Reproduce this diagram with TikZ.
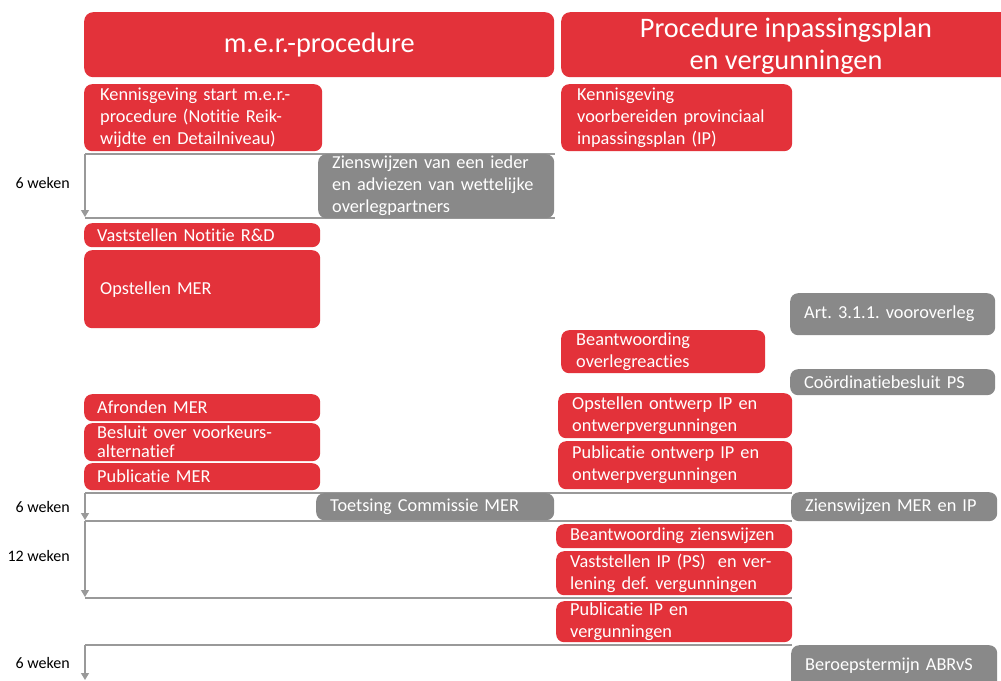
\documentclass[tikz,border=0pt]{standalone}
\usepackage{fontspec}
\setmainfont{Carlito}[Ligatures={NoCommon}]
\usetikzlibrary{arrows.meta}
\definecolor{mred}{HTML}{E3323A}
\definecolor{mgrey}{HTML}{898989}
\definecolor{lgrey}{HTML}{999999}
\tikzset{
  base/.style={anchor=north west, rounded corners=8pt, text=white, align=left,
    inner xsep=14pt, inner ysep=0pt, font=\fontsize{18.3}{22}\selectfont},
  redbox/.style={base, fill=mred},
  greybox/.style={base, fill=mgrey},
  headbox/.style={anchor=north west, rounded corners=9pt, fill=mred, text=white, align=center,
    inner sep=0pt, font=\fontsize{28.3}{32}\selectfont},
  tline/.style={draw=lgrey, line width=1.2pt},
  tarrow/.style={draw=lgrey, line width=1.2pt, -{Triangle[width=8pt,length=7pt]}},
  wlabel/.style={anchor=east, inner sep=0pt, font=\fontsize{16}{19}\selectfont}
}
\begin{document}
\frenchspacing
\begin{tikzpicture}[x=1pt,y=-1pt]
\clip (0,0) rectangle (1001,680);
\fill[white] (0,0) rectangle (1001,680);

% headers
\node[headbox, minimum width=470, minimum height=65] (h1) at (84,12) {m.e.r.-procedure};
\node[headbox, minimum width=450, minimum height=65, text width=440] (h2) at (561,12) {};
\node[font=\fontsize{28.3}{32}\selectfont, text=white, align=center, inner sep=0pt] (h2t) at (786,46) {Procedure inpassingsplan\\en vergunningen};

% timeline brackets
\coordinate (b1tl) at (85,154); \coordinate (b1tr) at (555,154);
\coordinate (b1bl) at (85,218); \coordinate (b1br) at (555,218);
\coordinate (b1a) at (85,217);
\draw[tline] (b1tl) -- (b1tr);
\draw[tline] (b1bl) -- (b1br);
\draw[tarrow] (b1tl) -- (b1a);
\node[wlabel] (w1) at (70,183) {6 weken};

\coordinate (b2tl) at (85,493); \coordinate (b2tr) at (792,493);
\coordinate (b2bl) at (85,521); \coordinate (b2br) at (792,521);
\coordinate (b2a) at (85,520);
\draw[tline] (b2tl) -- (b2tr);
\draw[tline] (b2bl) -- (b2br);
\draw[tarrow] (b2tl) -- (b2a);
\node[wlabel] (w2) at (70,507) {6 weken};

\coordinate (b3bl) at (85,598); \coordinate (b3br) at (792,598);
\coordinate (b3a) at (85,597);
\draw[tline] (b3bl) -- (b3br);
\draw[tarrow] (b2bl) -- (b3a);
\node[wlabel] (w3) at (70,556) {12 weken};

\coordinate (b4tl) at (85,645); \coordinate (b4tr) at (792,645);
\coordinate (b4a) at (85,680);
\draw[tline] (b4tl) -- (b4tr);
\draw[tarrow] (b4tl) -- (b4a);
\node[wlabel] (w4) at (70,663) {6 weken};

% left column (m.e.r.)
\node[redbox, inner xsep=16pt, minimum height=67, text width=206] (k1) at (84,84) {Kennisgeving start m.e.r.-\\procedure (Notitie Reik-\\wijdte en Detailniveau)};
\node[greybox, minimum height=64, text width=208] (zv) at (318,154) {Zienswijzen van een ieder\\en adviezen van wettelijke\\overlegpartners};
\node[redbox, inner xsep=13pt, minimum height=24, text width=210] (vn) at (84,223) {Vaststellen Notitie R\&D};
\node[redbox, inner xsep=16pt, minimum height=78, text width=204] (om) at (84,250) {Opstellen MER};
\node[redbox, inner xsep=13pt, minimum height=27, text width=210] (am) at (84,394) {Afronden MER};
\node[redbox, inner xsep=13pt, minimum height=38, text width=210, font=\fontsize{18.3}{19}\selectfont] (bv) at (84,423) {Besluit over voorkeurs-\\alternatief};
\node[redbox, inner xsep=13pt, minimum height=27, text width=210] (pm) at (84,463) {Publicatie MER};
\node[greybox, minimum height=27, text width=210] (tc) at (316,493) {Toetsing Commissie MER};

% middle column (IP)
\node[redbox, inner xsep=16pt, minimum height=67, text width=199] (k2) at (561,84) {Kennisgeving\\voorbereiden provinciaal\\inpassingsplan (IP)};
\node[redbox, inner xsep=15pt, minimum height=43, text width=174] (bo) at (561,330) {Beantwoording\\overlegreacties};
\node[redbox, minimum height=45, text width=206] (oo) at (558,393) {Opstellen ontwerp IP en\\ontwerpvergunningen};
\node[redbox, minimum height=48, text width=206] (po) at (558,441) {Publicatie ontwerp IP en\\ontwerpvergunningen};
\node[redbox, minimum height=24, text width=208] (bz) at (556,524) {Beantwoording zienswijzen};
\node[redbox, minimum height=44, text width=208] (vi) at (556,551) {Vaststellen IP (PS)\ \ en ver-\\lening def. vergunningen};
\node[redbox, minimum height=41, text width=208] (pi) at (556,601) {Publicatie IP en\\vergunningen};

% right column
\node[greybox, minimum height=42, text width=177] (av) at (790,293) {Art. 3.1.1. vooroverleg};
\node[greybox, minimum height=26, text width=177] (cb) at (790,369) {Coördinatiebesluit PS};
\node[greybox, minimum height=29, text width=178] (zm) at (791,492) {Zienswijzen MER en IP};
\node[greybox, minimum height=45, text width=178, text depth=8pt] (ba) at (791,645) {Beroepstermijn ABRvS};
\end{tikzpicture}
\end{document}
